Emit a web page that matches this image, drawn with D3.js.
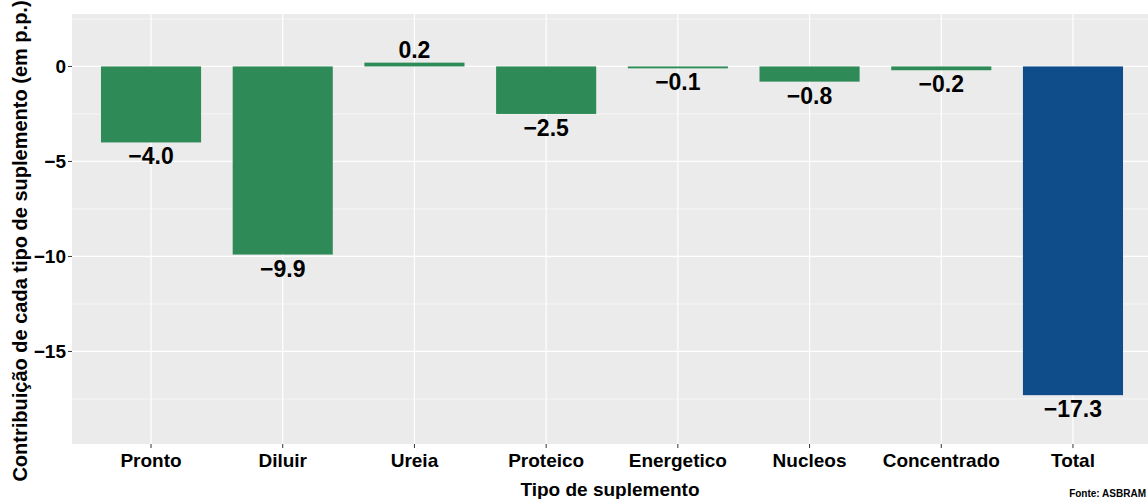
<!DOCTYPE html>
<html><head><meta charset="utf-8">
<script src="https://cdn.jsdelivr.net/npm/d3@7"></script>
<style>body{margin:0;background:#fff}text{font-family:"Liberation Sans",Arial,sans-serif;font-weight:bold}</style>
</head><body><svg id="c" width="1148" height="499"></svg>
<script>
// values
const categories = ['Pronto','Diluir','Ureia','Proteico','Energetico','Nucleos','Concentrado','Total'];
const values = [-4.0, -9.9, 0.2, -2.5, -0.1, -0.8, -0.2, -17.3];
const yTicks = [0, -5, -10, -15];
const yMinor = [2.5, -2.5, -7.5, -12.5, -17.5];

const svg = d3.select('#c'),
  pLeft = 72, pRight = 1152, pTop = 14, pBottom = 444;

const x = d3.scaleBand().domain(categories).range([pLeft, pRight]).paddingInner(0.24).paddingOuter(0.22);
const y = d3.scaleLinear().domain([2.76, -19.87]).range([pTop, pBottom]);

svg.append('rect').attr('x', pLeft).attr('y', pTop).attr('width', pRight - pLeft).attr('height', pBottom - pTop).attr('fill', '#ebebeb');

// grid
svg.selectAll('.gm').data(yMinor).join('line')
  .attr('x1', pLeft).attr('x2', pRight).attr('y1', d => y(d)).attr('y2', d => y(d))
  .attr('stroke', '#fff').attr('stroke-width', 0.6);
svg.selectAll('.gy').data(yTicks).join('line')
  .attr('x1', pLeft).attr('x2', pRight).attr('y1', d => y(d)).attr('y2', d => y(d))
  .attr('stroke', '#fff').attr('stroke-width', 1.2);
svg.selectAll('.gx').data(categories).join('line')
  .attr('x1', d => x(d) + x.bandwidth() / 2).attr('x2', d => x(d) + x.bandwidth() / 2)
  .attr('y1', pTop).attr('y2', pBottom).attr('stroke', '#fff').attr('stroke-width', 1.2);

// bars
svg.selectAll('.bar').data(values).join('rect')
  .attr('x', (d, i) => x(categories[i])).attr('width', x.bandwidth())
  .attr('y', d => y(Math.max(0, d))).attr('height', d => Math.abs(y(d) - y(0)))
  .attr('fill', (d, i) => categories[i] === 'Total' ? '#0f4c8a' : '#2e8b57');

// value labels
svg.selectAll('.lab').data(values).join('text')
  .attr('x', (d, i) => x(categories[i]) + x.bandwidth() / 2)
  .attr('y', d => d >= 0 ? y(d) - 5 : y(d) + 22)
  .attr('text-anchor', 'middle').attr('font-size', 23).attr('fill', '#000')
  .text(d => d3.format('.1f')(d).replace('-', '\u2212'));

// axes
svg.selectAll('.yt').data(yTicks).join('text')
  .attr('x', pLeft - 6).attr('y', d => y(d) + 7).attr('text-anchor', 'end')
  .attr('font-size', 19).attr('fill', '#000')
  .text(d => String(d).replace('-', '\u2212'));
svg.selectAll('.ytk').data(yTicks).join('line')
  .attr('x1', pLeft - 4).attr('x2', pLeft).attr('y1', d => y(d)).attr('y2', d => y(d)).attr('stroke', '#333');
svg.selectAll('.xt').data(categories).join('text')
  .attr('x', d => x(d) + x.bandwidth() / 2).attr('y', pBottom + 23).attr('text-anchor', 'middle')
  .attr('font-size', 19).attr('fill', '#000').text(d => d);
svg.selectAll('.xtk').data(categories).join('line')
  .attr('x1', d => x(d) + x.bandwidth() / 2).attr('x2', d => x(d) + x.bandwidth() / 2)
  .attr('y1', pBottom).attr('y2', pBottom + 4).attr('stroke', '#333');

svg.append('text').attr('x', 610).attr('y', 496).attr('text-anchor', 'middle')
  .attr('font-size', 19).text('Tipo de suplemento');
svg.append('text').attr('transform', `translate(27,${(pTop + pBottom) / 2 + 12}) rotate(-90)`)
  .attr('text-anchor', 'middle').attr('font-size', 20)
  .text('Contribuição de cada tipo de suplemento (em p.p.)');
svg.append('text').attr('x', 1146).attr('y', 497).attr('text-anchor', 'end').attr('font-size', 10).text('Fonte: ASBRAM');
</script></body></html>
